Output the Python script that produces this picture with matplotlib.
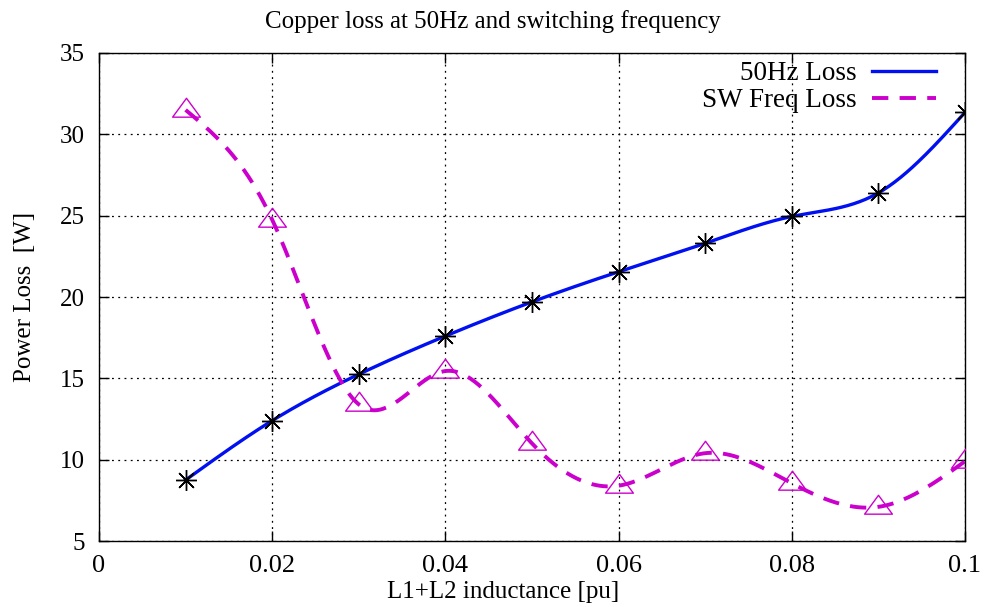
import numpy as np
import matplotlib.pyplot as plt
from matplotlib.path import Path

# inductance values [pu]
inductance = [0.01, 0.02, 0.03, 0.04, 0.05, 0.06, 0.07, 0.08, 0.09, 0.10]
# copper loss at 50 Hz [W]
loss_50hz = [8.75, 12.4, 15.25, 17.6, 19.7, 21.55, 23.3, 24.95, 26.4, 31.35]
# copper loss at switching frequency [W]
loss_sw = [31.5, 24.75, 13.4, 15.45, 11.0, 8.4, 10.4, 8.55, 7.1, 9.9]

x_ticks = [0, 0.02, 0.04, 0.06, 0.08, 0.1]
x_labels = ['0', '0.02', '0.04', '0.06', '0.08', '0.1']
y_ticks = [5, 10, 15, 20, 25, 30, 35]


def natural_spline(x, y, n=400):
    # natural cubic spline through the points (like gnuplot smooth csplines)
    x = np.asarray(x, float)
    y = np.asarray(y, float)
    k = len(x)
    h = np.diff(x)
    A = np.zeros((k, k))
    b = np.zeros(k)
    A[0, 0] = A[-1, -1] = 1
    for i in range(1, k - 1):
        A[i, i - 1] = h[i - 1]
        A[i, i] = 2 * (h[i - 1] + h[i])
        A[i, i + 1] = h[i]
        b[i] = 6 * ((y[i + 1] - y[i]) / h[i] - (y[i] - y[i - 1]) / h[i - 1])
    m = np.linalg.solve(A, b)
    xs = np.linspace(x[0], x[-1], n)
    idx = np.clip(np.searchsorted(x, xs) - 1, 0, k - 2)
    x0, x1 = x[idx], x[idx + 1]
    hh = x1 - x0
    t0, t1 = x1 - xs, xs - x0
    ys = (m[idx] * t0 ** 3 + m[idx + 1] * t1 ** 3) / (6 * hh) \
        + (y[idx] / hh - m[idx] * hh / 6) * t0 \
        + (y[idx + 1] / hh - m[idx + 1] * hh / 6) * t1
    return xs, ys


plt.rcParams['font.family'] = ['Liberation Serif', 'DejaVu Serif']

fig = plt.figure(figsize=(9.86, 6.07), dpi=100)
ax = fig.add_axes([0.1004, 0.1087, 0.8783, 0.804])

blue = '#0010f0'
magenta = '#cc00cc'

xs, ys = natural_spline(inductance, loss_50hz)
ax.plot(xs, ys, color=blue, lw=2.4, label='50Hz Loss', zorder=3)
xs, ys = natural_spline(inductance, loss_sw)
ax.plot(xs, ys, color=magenta, lw=2.8, dashes=(4.2, 2.9), label='SW Freq Loss', zorder=3)

star = (8, 2, 0)
ax.plot(inductance, loss_50hz, ls='none', marker=star, ms=15, mew=1.0,
        color='black', zorder=4)
tri = Path([(0, 0.88), (-1, -0.48), (1, -0.48), (0, 0.88)],
           [Path.MOVETO, Path.LINETO, Path.LINETO, Path.CLOSEPOLY])
ax.plot(inductance, loss_sw, ls='none', marker=tri, ms=20, mew=1.0,
        mfc='none', mec=magenta, zorder=4)

ax.set_xlim(0, 0.1)
ax.set_ylim(5, 35)
ax.set_xticks(x_ticks)
ax.set_xticklabels(x_labels)
ax.set_yticks(y_ticks)
ax.tick_params(direction='in', top=True, right=True, length=7, width=1)
ax.tick_params(axis='x', labelsize=19, pad=10)
ax.tick_params(axis='y', labelsize=18, pad=10)
ax.grid(True, color='black', ls=(0, (1.5, 3.5)), lw=0.9)
for s in ax.spines.values():
    s.set_linewidth(1.0)

fig.text(0.5, 1 - 22 / 607, 'Copper loss at 50Hz and switching frequency',
         fontsize=18, ha='center', va='center')
fig.text(0.51, 15 / 607, 'L1+L2 inductance [pu]', fontsize=18,
         ha='center', va='center')
fig.text(0.0254, 0.5107, 'Power Loss  [W]', fontsize=18, rotation=90,
         ha='center', va='center')

ax.legend(loc='upper right', frameon=False, markerfirst=False, fontsize=19.5,
          handlelength=2.35, handletextpad=0.55, labelspacing=0.08,
          borderpad=0, borderaxespad=0, bbox_to_anchor=(0.966, 0.983))

fig.savefig('out.png', dpi=100)
